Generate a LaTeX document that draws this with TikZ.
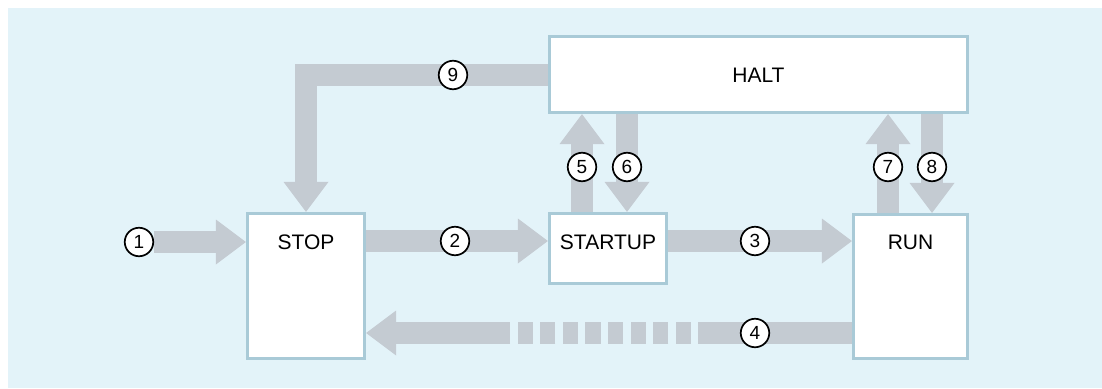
\documentclass[tikz,border=0pt]{standalone}
\usepackage{fontspec}
\setmainfont{Liberation Sans}
\usetikzlibrary{arrows.meta}
\definecolor{bgblue}{HTML}{E3F3F9}
\definecolor{arrgray}{HTML}{C4CBD2}
\definecolor{boxedge}{HTML}{A9CAD7}
\pgfdeclarelayer{bg}
\pgfsetlayers{bg,main}
\begin{document}
\begin{tikzpicture}[x=1pt,y=-1pt,
  box/.style={draw=boxedge, line width=3.2pt, fill=white, inner sep=0pt},
  lbl/.style={font=\fontsize{21}{25}\selectfont, inner sep=0pt},
  num/.style={circle, draw=black, line width=1.7pt, fill=white, minimum size=28.5pt, inner sep=0pt, font=\fontsize{19}{22}\selectfont},
  flow/.style={draw=arrgray, line width=22pt, line cap=butt, line join=miter,
    -{Triangle[width=45pt,length=30pt,line width=0pt]}},
]
\useasboundingbox (0,0) rectangle (1102,388);
% boxes
\node[box, minimum width=117pt, minimum height=145pt] (stop) at (306,286) {};
\node[box, minimum width=117pt, minimum height=70pt] (startup) at (608,248.5) {};
\node[box, minimum width=114pt, minimum height=144pt] (run) at (910.5,286.5) {};
\node[box, minimum width=418pt, minimum height=76pt] (halt) at (758.5,74.5) {};
% labels
\node[lbl] (stoptxt) at (306,242) {STOP};
\node[lbl] (startuptxt) at (608,242) {STARTUP};
\node[lbl] (runtxt) at (910.5,242) {RUN};
\node[lbl] (halttxt) at (758.5,75) {HALT};
% numbers
\node[num] (n1) at (139,242) {1};
\node[num] (n2) at (455,241) {2};
\node[num] (n3) at (755,241) {3};
\node[num] (n4) at (755,333) {4};
\node[num] (n5) at (582,167) {5};
\node[num] (n6) at (627,167) {6};
\node[num] (n7) at (888,167) {7};
\node[num] (n8) at (932,167) {8};
\node[num] (n9) at (453,75) {9};
\begin{pgfonlayer}{bg}
\fill[bgblue] (8,8) rectangle (1102,388);
\draw[flow] (n1.east) -- (stop.west |- n1);
\draw[flow] (stop.east |- n2) -- (startup.west |- n2);
\draw[flow] (startup.east |- n3) -- (run.west |- n3);
\draw[flow, dash pattern=on 154pt off 7pt on 15.2pt off 7.4pt on 15.2pt off 7.4pt on 15.2pt off 7.4pt on 15.2pt off 7.4pt on 15.2pt off 7.4pt on 15.2pt off 7.4pt on 15.2pt off 7.4pt on 15.2pt off 7.4pt on 600pt]
  (run.west |- n4) -- (stop.east |- n4);
\draw[flow] (startup.north -| n5) -- (halt.south -| n5);
\draw[flow] (halt.south -| n6) -- (startup.north -| n6);
\draw[flow] (run.north -| n7) -- (halt.south -| n7);
\draw[flow] (halt.south -| n8) -- (run.north -| n8);
\draw[flow] (halt.west) -| (stop.north);
\end{pgfonlayer}
\end{tikzpicture}
\end{document}
